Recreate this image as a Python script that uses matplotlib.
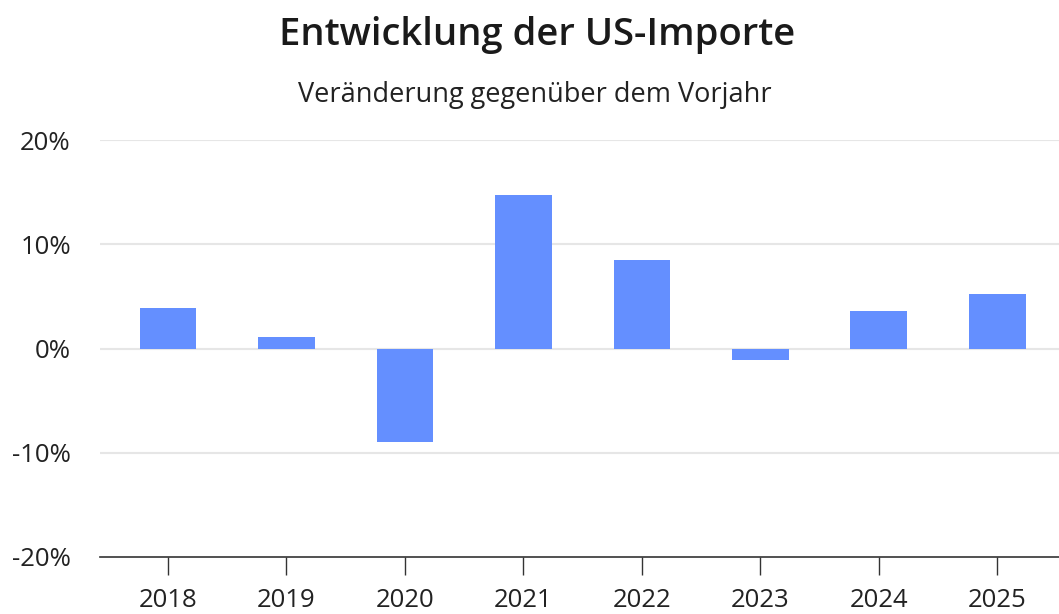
import matplotlib
matplotlib.use("Agg")
import matplotlib.pyplot as plt
from matplotlib.ticker import FuncFormatter

years = ["2018", "2019", "2020", "2021", "2022", "2023", "2024", "2025"]
changes = [3.9, 1.1, -9.0, 14.7, 8.5, -1.15, 3.6, 5.2]
yticks = [-20, -10, 0, 10, 20]

plt.rcParams['font.family'] = ['Open Sans', 'DejaVu Sans']

fig = plt.figure(figsize=(10.59, 6.14), dpi=100)
ax = fig.add_axes([100/1059, 57/614, 1 - 100/1059, (557-140)/614])

x = list(range(len(years)))
ax.bar(x, changes, width=0.48, color="#648FFF", zorder=3)

ax.set_ylim(-20, 20)
ax.set_xlim(-0.574, 7.52)
ax.set_yticks(yticks)
ax.yaxis.set_major_formatter(FuncFormatter(lambda v, p: f"{int(v)}%"))
ax.set_xticks(x)
ax.set_xticklabels(years)

for v in yticks[1:]:
    ax.axhline(v, color="#e6e6e6", lw=1.5, zorder=1)

for s in ["top", "right", "left"]:
    ax.spines[s].set_visible(False)
ax.spines["bottom"].set_color("#333333")
ax.spines["bottom"].set_linewidth(1.2)

ax.tick_params(axis="y", length=0, pad=21, labelsize=18.5, labelcolor="#222222")
ax.tick_params(axis="x", length=13, width=1, color="#333333", pad=9,
               labelsize=18.5, labelcolor="#222222")

fig.text(537/1059, 1 - 35/614, "Entwicklung der US-Importe", ha="center", va="center",
         fontsize=27.5, color="#1a1a1a", fontweight="semibold")
fig.text(535/1059, 1 - 95/614, "Veränderung gegenüber dem Vorjahr", ha="center", va="center",
         fontsize=19.5, color="#222222")

fig.savefig("out.png", dpi=100)
